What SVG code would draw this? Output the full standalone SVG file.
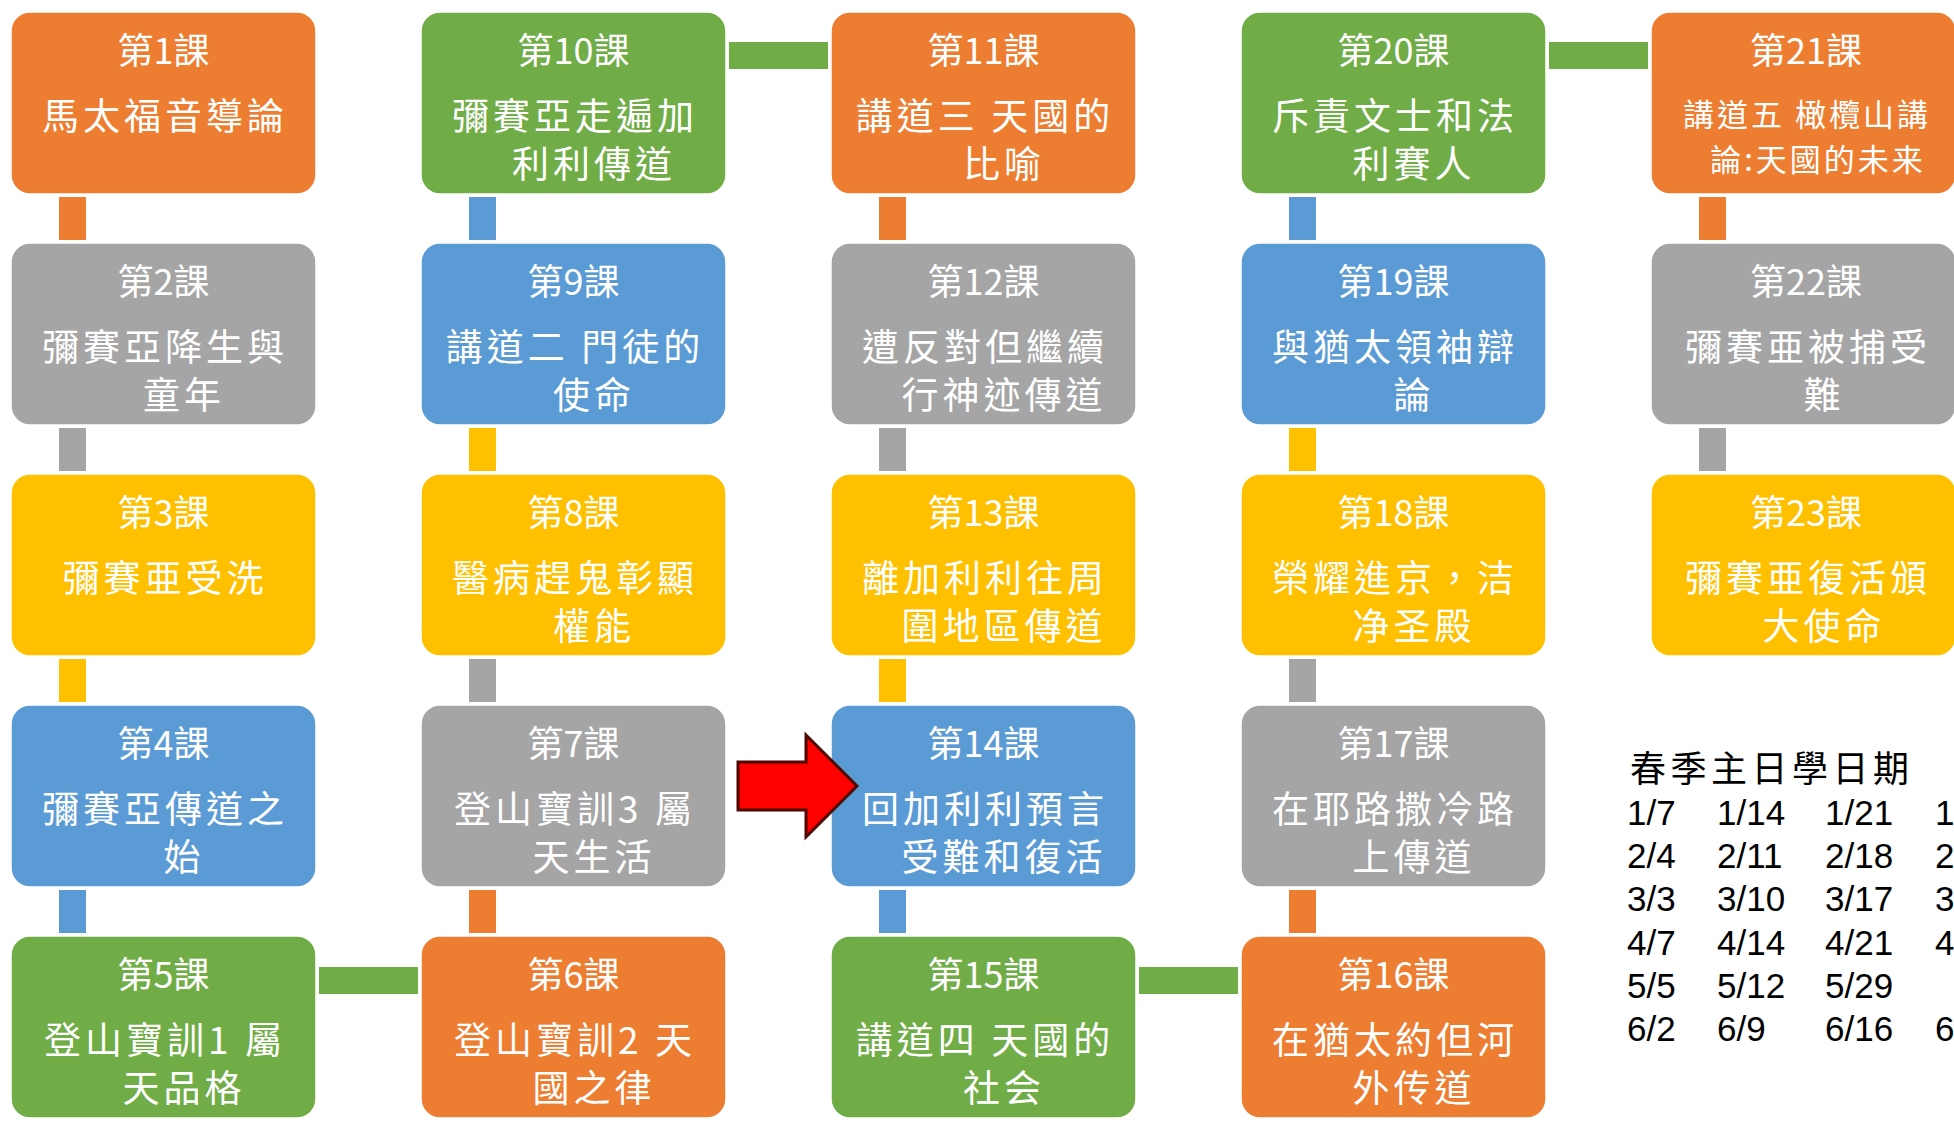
<svg xmlns="http://www.w3.org/2000/svg" width="1954" height="1127" viewBox="0 0 1954 1127">
<style>
.box{stroke:#ffffff;stroke-width:1.5}
.or{fill:#ED7D31}.gy{fill:#A5A5A5}.ye{fill:#FFC000}.bl{fill:#5B9BD5}.gr{fill:#70AD47}
.t{font-family:"Noto Sans CJK TC","Noto Sans CJK SC",sans-serif;fill:#ffffff;text-anchor:middle}
.h{font-size:36px}
.b{font-size:37px;letter-spacing:4px}
.s{font-size:31px;letter-spacing:3px}
.dt{font-family:"Noto Sans CJK TC",serif;font-size:36px;letter-spacing:4.5px;fill:#000}
.d{font-family:"Liberation Sans","Noto Sans",sans-serif;font-size:35px;fill:#000}
</style>
<rect width="1954" height="1127" fill="#ffffff"/>
<g id="connectors">
<rect class="or" x="59" y="197" width="27" height="43"/>
<rect class="gy" x="59" y="428" width="27" height="43"/>
<rect class="ye" x="59" y="659" width="27" height="43"/>
<rect class="bl" x="59" y="890" width="27" height="43"/>
<rect class="bl" x="469" y="197" width="27" height="43"/>
<rect class="ye" x="469" y="428" width="27" height="43"/>
<rect class="gy" x="469" y="659" width="27" height="43"/>
<rect class="or" x="469" y="890" width="27" height="43"/>
<rect class="or" x="879" y="197" width="27" height="43"/>
<rect class="gy" x="879" y="428" width="27" height="43"/>
<rect class="ye" x="879" y="659" width="27" height="43"/>
<rect class="bl" x="879" y="890" width="27" height="43"/>
<rect class="bl" x="1289" y="197" width="27" height="43"/>
<rect class="ye" x="1289" y="428" width="27" height="43"/>
<rect class="gy" x="1289" y="659" width="27" height="43"/>
<rect class="or" x="1289" y="890" width="27" height="43"/>
<rect class="or" x="1699" y="197" width="27" height="43"/>
<rect class="gy" x="1699" y="428" width="27" height="43"/>
<rect class="gr" x="729" y="42" width="99" height="27"/>
<rect class="gr" x="1549" y="42" width="99" height="27"/>
<rect class="gr" x="319" y="967" width="99" height="27"/>
<rect class="gr" x="1139" y="967" width="99" height="27"/>
</g>
<g id="n1"><rect class="box or" x="11" y="12" width="305" height="182" rx="19"/><text class="t h" x="163.5" y="64">第1課</text><text class="t b" x="165" y="130">馬太福音導論</text></g>
<g id="n2"><rect class="box gy" x="11" y="243" width="305" height="182" rx="19"/><text class="t h" x="163.5" y="295">第2課</text><text class="t b" x="165" y="361">彌賽亞降生與</text><text class="t b" x="184" y="409">童年</text></g>
<g id="n3"><rect class="box ye" x="11" y="474" width="305" height="182" rx="19"/><text class="t h" x="163.5" y="526">第3課</text><text class="t b" x="165" y="592">彌賽亜受洗</text></g>
<g id="n4"><rect class="box bl" x="11" y="705" width="305" height="182" rx="19"/><text class="t h" x="163.5" y="757">第4課</text><text class="t b" x="165" y="823">彌賽亞傳道之</text><text class="t b" x="184" y="871">始</text></g>
<g id="n5"><rect class="box gr" x="11" y="936" width="305" height="182" rx="19"/><text class="t h" x="163.5" y="988">第5課</text><text class="t b" x="165" y="1054">登山寶訓1 屬</text><text class="t b" x="184" y="1102">天品格</text></g>
<g id="n6"><rect class="box or" x="421" y="936" width="305" height="182" rx="19"/><text class="t h" x="573.5" y="988">第6課</text><text class="t b" x="575" y="1054">登山寶訓2 天</text><text class="t b" x="594" y="1102">國之律</text></g>
<g id="n7"><rect class="box gy" x="421" y="705" width="305" height="182" rx="19"/><text class="t h" x="573.5" y="757">第7課</text><text class="t b" x="575" y="823">登山寶訓3 屬</text><text class="t b" x="594" y="871">天生活</text></g>
<g id="n8"><rect class="box ye" x="421" y="474" width="305" height="182" rx="19"/><text class="t h" x="573.5" y="526">第8課</text><text class="t b" x="575" y="592">醫病趕鬼彰顯</text><text class="t b" x="594" y="640">權能</text></g>
<g id="n9"><rect class="box bl" x="421" y="243" width="305" height="182" rx="19"/><text class="t h" x="573.5" y="295">第9課</text><text class="t b" x="575" y="361">講道二 門徒的</text><text class="t b" x="594" y="409">使命</text></g>
<g id="n10"><rect class="box gr" x="421" y="12" width="305" height="182" rx="19"/><text class="t h" x="573.5" y="64">第10課</text><text class="t b" x="575" y="130">彌賽亞走遍加</text><text class="t b" x="594" y="178">利利傳道</text></g>
<g id="n11"><rect class="box or" x="831" y="12" width="305" height="182" rx="19"/><text class="t h" x="983.5" y="64">第11課</text><text class="t b" x="985" y="130">講道三 天國的</text><text class="t b" x="1004" y="178">比喻</text></g>
<g id="n12"><rect class="box gy" x="831" y="243" width="305" height="182" rx="19"/><text class="t h" x="983.5" y="295">第12課</text><text class="t b" x="985" y="361">遭反對但繼續</text><text class="t b" x="1004" y="409">行神迹傳道</text></g>
<g id="n13"><rect class="box ye" x="831" y="474" width="305" height="182" rx="19"/><text class="t h" x="983.5" y="526">第13課</text><text class="t b" x="985" y="592">離加利利往周</text><text class="t b" x="1004" y="640">圍地區傳道</text></g>
<g id="n14"><rect class="box bl" x="831" y="705" width="305" height="182" rx="19"/><text class="t h" x="983.5" y="757">第14課</text><text class="t b" x="985" y="823">回加利利預言</text><text class="t b" x="1004" y="871">受難和復活</text></g>
<g id="n15"><rect class="box gr" x="831" y="936" width="305" height="182" rx="19"/><text class="t h" x="983.5" y="988">第15課</text><text class="t b" x="985" y="1054">講道四 天國的</text><text class="t b" x="1004" y="1102">社会</text></g>
<g id="n16"><rect class="box or" x="1241" y="936" width="305" height="182" rx="19"/><text class="t h" x="1393.5" y="988">第16課</text><text class="t b" x="1395" y="1054">在猶太約但河</text><text class="t b" x="1414" y="1102">外传道</text></g>
<g id="n17"><rect class="box gy" x="1241" y="705" width="305" height="182" rx="19"/><text class="t h" x="1393.5" y="757">第17課</text><text class="t b" x="1395" y="823">在耶路撒冷路</text><text class="t b" x="1414" y="871">上傳道</text></g>
<g id="n18"><rect class="box ye" x="1241" y="474" width="305" height="182" rx="19"/><text class="t h" x="1393.5" y="526">第18課</text><text class="t b" x="1395" y="592">榮耀進京，洁</text><text class="t b" x="1414" y="640">净圣殿</text></g>
<g id="n19"><rect class="box bl" x="1241" y="243" width="305" height="182" rx="19"/><text class="t h" x="1393.5" y="295">第19課</text><text class="t b" x="1395" y="361">與猶太領袖辯</text><text class="t b" x="1414" y="409">論</text></g>
<g id="n20"><rect class="box gr" x="1241" y="12" width="305" height="182" rx="19"/><text class="t h" x="1393.5" y="64">第20課</text><text class="t b" x="1395" y="130">斥責文士和法</text><text class="t b" x="1414" y="178">利賽人</text></g>
<g id="n21"><rect class="box or" x="1651" y="12" width="305" height="182" rx="19"/><text class="t h" x="1806" y="64">第21課</text><text class="t s" x="1807" y="126">講道五 橄欖山講</text><text class="t s" x="1818" y="171">論:天國的未来</text></g>
<g id="n22"><rect class="box gy" x="1651" y="243" width="305" height="182" rx="19"/><text class="t h" x="1806" y="295">第22課</text><text class="t b" x="1808" y="361">彌賽亜被捕受</text><text class="t b" x="1824" y="409">難</text></g>
<g id="n23"><rect class="box ye" x="1651" y="474" width="305" height="182" rx="19"/><text class="t h" x="1806" y="526">第23課</text><text class="t b" x="1808" y="592">彌賽亜復活頒</text><text class="t b" x="1824" y="640">大使命</text></g>
<g id="arrow">
<polygon points="738,762 806,762 806,735 857,786 806,837 806,810 738,810" fill="#FF0000" stroke="#4D0A00" stroke-width="3" stroke-linejoin="miter"/>
</g>
<g id="dates">
<text class="dt" x="1630" y="782">春季主日學日期</text>
<text class="d" x="1627" y="825">1/7</text><text class="d" x="1717" y="825">1/14</text><text class="d" x="1825" y="825">1/21</text><text class="d" x="1935" y="825">1/</text>
<text class="d" x="1627" y="868">2/4</text><text class="d" x="1717" y="868">2/11</text><text class="d" x="1825" y="868">2/18</text><text class="d" x="1935" y="868">2/</text>
<text class="d" x="1627" y="911">3/3</text><text class="d" x="1717" y="911">3/10</text><text class="d" x="1825" y="911">3/17</text><text class="d" x="1935" y="911">3/</text>
<text class="d" x="1627" y="955">4/7</text><text class="d" x="1717" y="955">4/14</text><text class="d" x="1825" y="955">4/21</text><text class="d" x="1935" y="955">4/</text>
<text class="d" x="1627" y="998">5/5</text><text class="d" x="1717" y="998">5/12</text><text class="d" x="1825" y="998">5/29</text>
<text class="d" x="1627" y="1041">6/2</text><text class="d" x="1717" y="1041">6/9</text><text class="d" x="1825" y="1041">6/16</text><text class="d" x="1935" y="1041">6/</text>
</g>
</svg>
